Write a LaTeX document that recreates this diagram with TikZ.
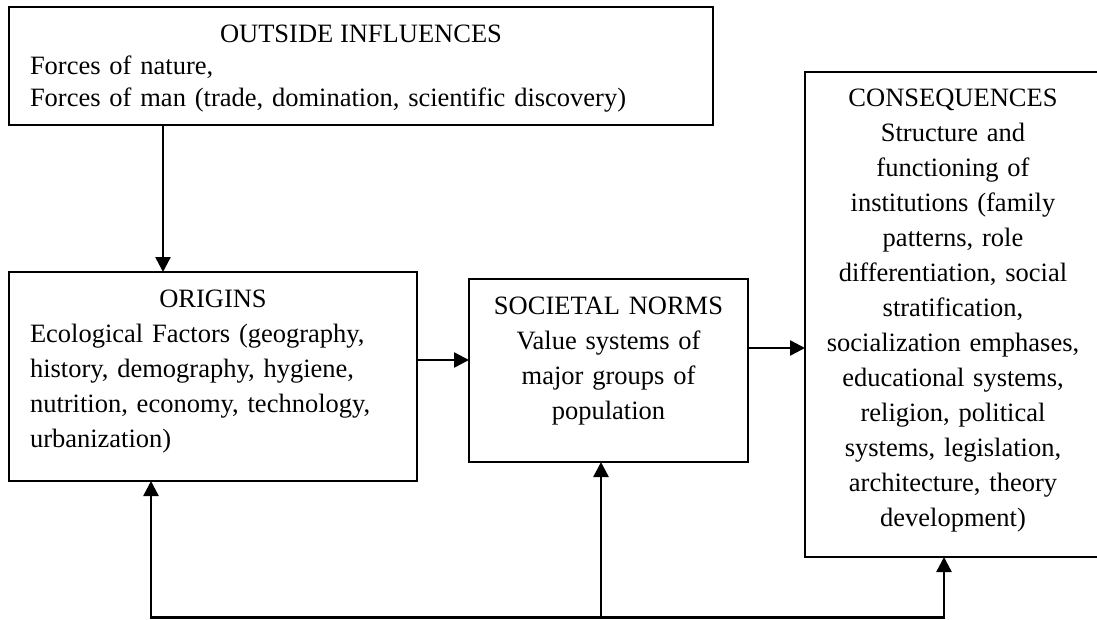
\documentclass[tikz,border=0pt]{standalone}
\usepackage{fontspec}
\setmainfont{Liberation Serif}
\usetikzlibrary{arrows.meta}
\begin{document}
\begin{tikzpicture}[x=1pt,y=-1pt,
  box/.style={draw, line width=2pt, inner sep=0pt, outer sep=0pt, rectangle},
  txt/.style={inner sep=0pt, outer sep=0pt, font=\fontsize{26.5}{35}\selectfont},
  arr/.style={line width=2.5pt, -{Triangle[length=15pt,width=15pt]}},
  base line/.style={line width=2.5pt, line cap=rect},
]
\clip (0,0) rectangle (1097,619);
\fill[white] (0,0) rectangle (1097,619);

% boxes
\node[box, minimum width=704pt, minimum height=118pt] (out) at (361,66) {};
\node[box, minimum width=408pt, minimum height=209pt] (orig) at (213,376.5) {};
\node[box, minimum width=279pt, minimum height=183pt] (soc) at (608.5,370.5) {};
\node[box, minimum width=295pt, minimum height=485pt] (cons) at (952.5,314.5) {};

% texts
\node[txt, anchor=base] (outT) at (361,42) {OUTSIDE INFLUENCES};
\node[txt, anchor=base west, text width=680pt, align=left,
      font=\fontsize{26.5}{32}\selectfont] (outB) at (30,74)
  {Forces of nature,\\Forces of man (trade, domination, scientific discovery)};

\node[txt, anchor=base] (origT) at (213,307) {ORIGINS};
\node[txt, anchor=base west, text width=385pt, align=left] (origB) at (30,342)
  {Ecological Factors (geography,\\history, demography, hygiene,\\nutrition, economy, technology,\\urbanization)};

\node[txt, anchor=base, text width=270pt, align=center] (socT) at (608.5,314)
  {SOCIETAL NORMS\\Value systems of\\major groups of\\population};

\node[txt, anchor=base, text width=288pt, align=center] (consT) at (953,106)
  {CONSEQUENCES\\Structure and\\functioning of\\institutions (family\\patterns, role\\differentiation, social\\stratification,\\socialization emphases,\\educational systems,\\religion, political\\systems, legislation,\\architecture, theory\\development)};

% connectors
\coordinate (xa) at (163,0);
\coordinate (ya) at (0,360);
\coordinate (yb) at (0,348);
\draw[arr] (out.south -| xa) -- (orig.north -| xa);
\draw[arr] (orig.east |- ya) -- (soc.west |- ya);
\draw[arr] (soc.east |- yb) -- (cons.west |- yb);

% feedback line along the bottom
\coordinate (b1) at (151,617.5);
\coordinate (b2) at (601,617.5);
\coordinate (b3) at (944,617.5);
\draw[base line] (b1) -- (b3);
\draw[arr] (b1) -- (orig.south -| b1);
\draw[arr] (b2) -- (soc.south -| b2);
\draw[arr] (b3) -- (cons.south -| b3);
\end{tikzpicture}
\end{document}
